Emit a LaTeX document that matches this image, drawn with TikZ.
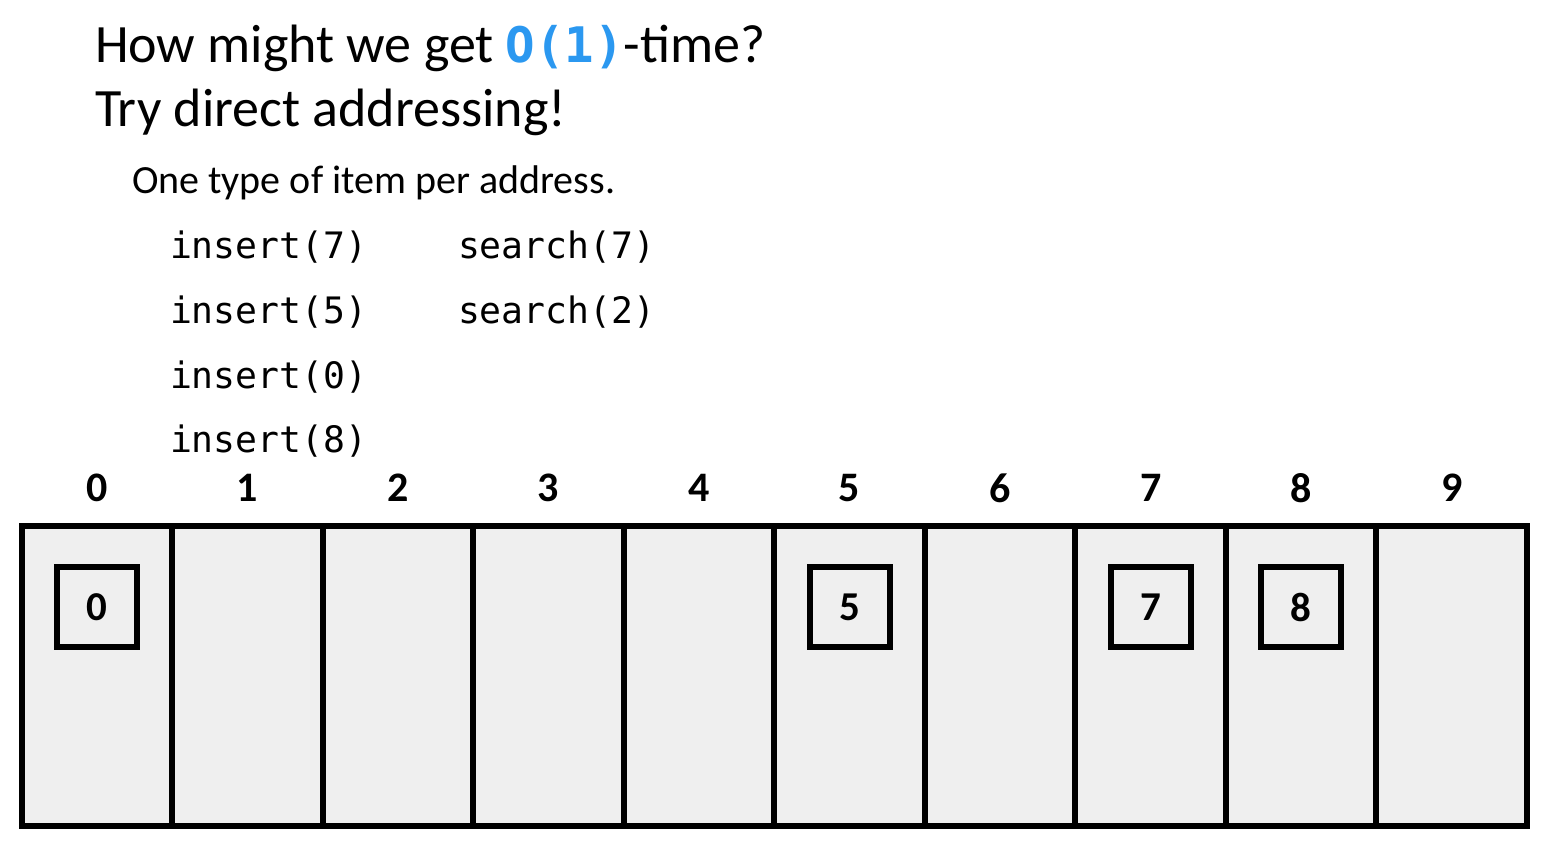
\documentclass[tikz,border=0pt]{standalone}
\usepackage{fontspec}
\setmainfont{Carlito}
\newfontfamily\codefont{DejaVu Sans Mono}
\definecolor{titleblue}{HTML}{2B98F0}
\definecolor{cellgray}{HTML}{EFEFEF}
\begin{document}
\begin{tikzpicture}[x=0.5pt,y=-0.5pt,
  txt/.style={anchor=base west, inner sep=0pt, outer sep=0pt},
  code/.style={txt, font=\codefont\fontsize{18.2}{20}\selectfont},
  cell/.style={draw, line width=3pt, fill=cellgray, minimum width=75.275pt, minimum height=150pt, inner sep=0pt, outer sep=0pt},
  item/.style={draw, line width=3pt, minimum width=40pt, minimum height=40pt, inner sep=0pt, outer sep=0pt, font=\bfseries\fontsize{20.5}{22}\selectfont},
  idx/.style={inner sep=0pt, font=\bfseries\fontsize{21}{22}\selectfont}]
\useasboundingbox (0,0) rectangle (1550,845);
\node[txt, font=\fontsize{27}{30}\selectfont] (t1) at (95,63) {How might we get {\codefont\bfseries\fontsize{24.5}{26}\selectfont\color{titleblue}O(1)}-time?};
\node[txt, font=\fontsize{27}{30}\selectfont] (t2) at (95,127) {Try direct addressing!};
\node[txt, font=\fontsize{20}{22}\selectfont] (t3) at (132,194) {One type of item per address.};
\node[code] (c1) at (170,258) {insert(7)};
\node[code] (c2) at (170,323) {insert(5)};
\node[code] (c3) at (170,388) {insert(0)};
\node[code] (c4) at (170,452) {insert(8)};
\node[code] (s1) at (458,258) {search(7)};
\node[code] (s2) at (458,323) {search(2)};
\foreach \i in {0,...,9} {
  \node[cell] (cell\i) at ({21.5+150.55*\i+75.275},676) {};
  \node[idx] (idx\i) at ({21.5+150.55*\i+75.275},488) {\i};
}
\foreach \i in {0,5,7,8} {
  \node[item] (it\i) at ({21.5+150.55*\i+75.275},607) {\i};
}
\end{tikzpicture}
\end{document}
